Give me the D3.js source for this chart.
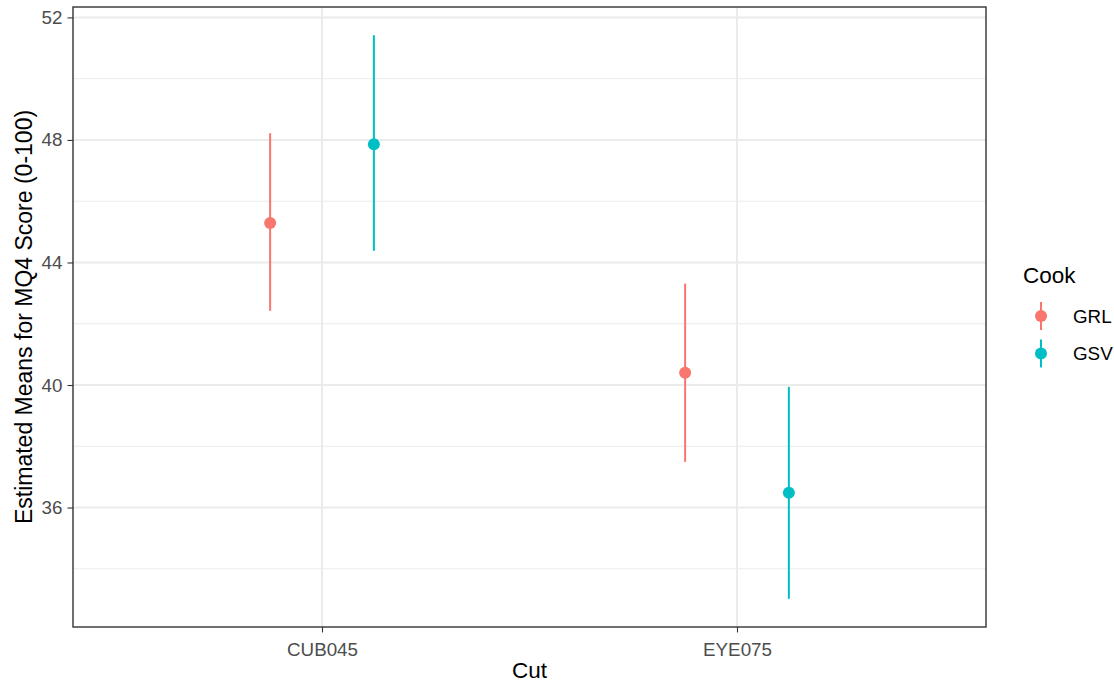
<!DOCTYPE html>
<meta charset="utf-8">
<style>
body { margin: 0; background: #fff; }
text { font-family: "Liberation Sans", Arial, sans-serif; }
.tick text { fill: #4d4d4d; font-size: 18.8px; }
.tick line { stroke: #333; stroke-width: 1.1px; }
.axis path { display: none; }
</style>
<svg width="1114" height="683"></svg>
<script src="https://d3js.org/d3.v7.min.js"></script>
<script>

var cuts = ["CUB045", "EYE075"],
    cooks = ["GRL", "GSV"],
    colors = ["#F8766D", "#00BFC4"];

// estimated means and CI limits, one array per cook, in cut order
var meanGRL = [45.29, 40.40],
    meanGSV = [47.86, 36.48],
    lowerGRL = [42.42, 37.49],
    lowerGSV = [44.38, 33.02],
    upperGRL = [48.22, 43.31],
    upperGSV = [51.42, 39.94];

var yTicks = [36, 40, 44, 48, 52],
    yMinor = [34, 38, 42, 46, 50];

var data = [];
cuts.forEach(function(c, i) {
  data.push({cut: c, cook: "GRL", mean: meanGRL[i], lo: lowerGRL[i], hi: upperGRL[i]});
  data.push({cut: c, cook: "GSV", mean: meanGSV[i], lo: lowerGSV[i], hi: upperGSV[i]});
});

var svg = d3.select("svg"),
    margin = {top: 7, right: 128, bottom: 56, left: 73},
    width = +svg.attr("width") - margin.left - margin.right,
    height = +svg.attr("height") - margin.top - margin.bottom;

var x = d3.scalePoint().domain(cuts).range([0, width]).padding(0.6),
    y = d3.scaleLinear().domain([32.10, 52.34]).range([height, 0]),
    color = d3.scaleOrdinal().domain(cooks).range(colors);

var dodge = x.step() * 0.125;
function xpos(d) { return x(d.cut) + (d.cook === "GRL" ? -dodge : dodge); }

var g = svg.append("g")
    .attr("transform", "translate(" + margin.left + "," + margin.top + ")");

// grid
g.selectAll(".minor")
  .data(yMinor)
  .enter().append("line")
    .attr("x1", 0).attr("x2", width)
    .attr("y1", y).attr("y2", y)
    .attr("stroke", "#ebebeb").attr("stroke-width", 1);

g.selectAll(".majorY")
  .data(yTicks)
  .enter().append("line")
    .attr("x1", 0).attr("x2", width)
    .attr("y1", y).attr("y2", y)
    .attr("stroke", "#ebebeb").attr("stroke-width", 2);

g.selectAll(".majorX")
  .data(cuts)
  .enter().append("line")
    .attr("x1", x).attr("x2", x)
    .attr("y1", 0).attr("y2", height)
    .attr("stroke", "#ebebeb").attr("stroke-width", 2);

// error bars
g.selectAll(".bar")
  .data(data)
  .enter().append("line")
    .attr("x1", xpos).attr("x2", xpos)
    .attr("y1", function(d) { return y(d.lo); })
    .attr("y2", function(d) { return y(d.hi); })
    .attr("stroke", function(d) { return color(d.cook); })
    .attr("stroke-width", 2);

g.selectAll(".pt")
  .data(data)
  .enter().append("circle")
    .attr("cx", xpos)
    .attr("cy", function(d) { return y(d.mean); })
    .attr("r", 6)
    .attr("fill", function(d) { return color(d.cook); });

// panel border
g.append("rect")
    .attr("width", width).attr("height", height)
    .attr("fill", "none")
    .attr("stroke", "#333").attr("stroke-width", 1.4);

// axes
g.append("g")
    .attr("class", "axis")
    .attr("transform", "translate(0," + height + ")")
    .call(d3.axisBottom(x).tickSizeInner(5.5).tickPadding(6))
  .selectAll("text").attr("dy", "0.95em");

g.append("g")
    .attr("class", "axis")
    .call(d3.axisLeft(y).tickValues(yTicks).tickSizeInner(5.5).tickPadding(5));

svg.append("text")
    .attr("x", margin.left + width / 2)
    .attr("y", 678)
    .attr("text-anchor", "middle")
    .style("font-size", "22.5px")
    .text("Cut");

svg.append("text")
    .attr("transform", "translate(32," + (margin.top + height / 2) + ") rotate(-90)")
    .attr("text-anchor", "middle")
    .style("font-size", "23px")
    .text("Estimated Means for MQ4 Score (0-100)");

// legend
var legend = svg.append("g").attr("transform", "translate(1023,0)");
legend.append("text")
    .attr("x", 0).attr("y", 283)
    .style("font-size", "22.5px")
    .text("Cook");

var keys = legend.selectAll(".key")
  .data(cooks)
  .enter().append("g")
    .attr("transform", function(d, i) { return "translate(18," + (316 + i * 37.6) + ")"; });

keys.append("line")
    .attr("y1", -14).attr("y2", 14)
    .attr("stroke", color).attr("stroke-width", 2);
keys.append("circle")
    .attr("r", 6).attr("fill", color);
keys.append("text")
    .attr("x", 32).attr("y", 0).attr("dy", "0.36em")
    .style("font-size", "18.8px")
    .text(function(d) { return d; });

</script>
